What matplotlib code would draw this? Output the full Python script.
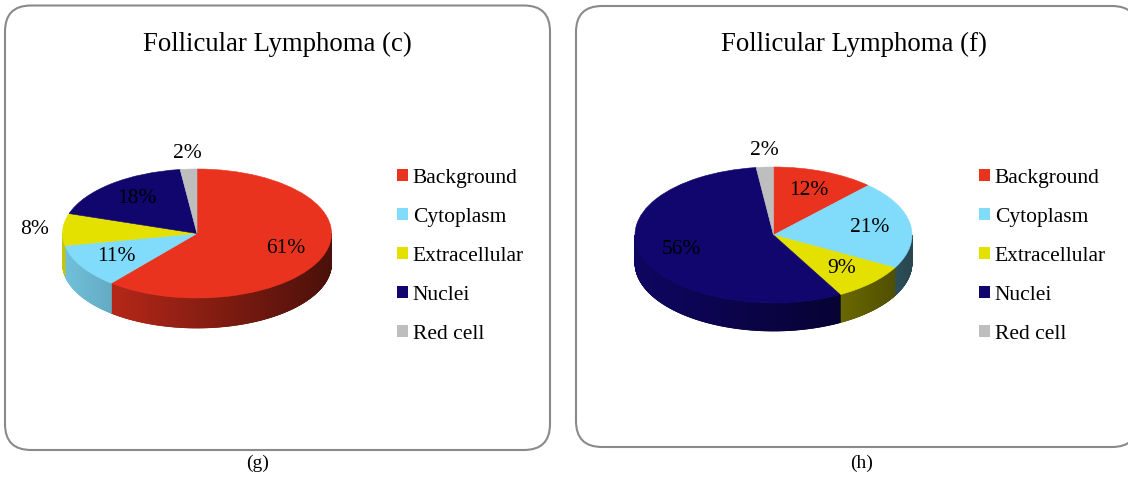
import numpy as np
import matplotlib
matplotlib.use('Agg')
import matplotlib.pyplot as plt
from matplotlib.patches import FancyBboxPatch, Patch
from matplotlib.collections import PolyCollection
from matplotlib.colors import to_rgb
from matplotlib.legend import Legend

# ---------------- data ----------------
categories = ['Background', 'Cytoplasm', 'Extracellular', 'Nuclei', 'Red cell']
values_c = [61, 11, 8, 18, 2]
values_f = [12, 21, 9, 56, 2]
titles = ['Follicular Lymphoma (c)', 'Follicular Lymphoma (f)']
captions = ['(g)', '(h)']
colors = ['#E9331F', '#80DCFA', '#E4E100', '#10066E', '#BEBEBE']

# ---------------- layout ----------------
plt.rcParams['font.family'] = ['Liberation Serif', 'DejaVu Serif']
W, H = 1128, 479
fig = plt.figure(figsize=(W / 100, H / 100), dpi=100)
fig.patch.set_facecolor('white')

bg = fig.add_axes([0, 0, 1, 1], zorder=0)
bg.set_xlim(0, W)
bg.set_ylim(H, 0)
bg.axis('off')

panels = [(5, 5.5, 545, 444.5), (576, 6, 562, 441)]       # x, y, w, h (px)
title_pos = [(277, 51), (854, 51)]
caption_pos = [(258, 463), (862, 463)]
legend_pos = [(397, 168.5), (979, 168.5)]
pie_geom = [(197, 233.5, 134.5, 64.5, 30), (773.5, 235, 138.5, 68, 28)]  # cx, cy, rx, ry, depth
outside_threshold = 8.5

for (x, y, w, h) in panels:
    bg.add_patch(FancyBboxPatch((x, y), w, h,
                                boxstyle='round,pad=0,rounding_size=26',
                                facecolor='white', edgecolor='#8A8A8A',
                                linewidth=1.5))

for t, (x, y) in zip(titles, title_pos):
    bg.text(x, y, t, ha='center', va='baseline', fontsize=19.3, color='black')
for c, (x, y) in zip(captions, caption_pos):
    bg.text(x, y, c, ha='center', va='center', fontsize=14, color='black')

handles = [Patch(facecolor=c, edgecolor='none') for c in colors]
for (lx, ly) in legend_pos:
    leg = Legend(bg, handles, categories, loc='upper left',
                 bbox_to_anchor=(lx, ly), bbox_transform=bg.transData,
                 frameon=False, fontsize=15.5, handlelength=0.52,
                 handleheight=0.52, handletextpad=0.22,
                 labelspacing=0.93, borderpad=0, borderaxespad=0)
    bg.add_artist(leg)


def draw_pie(values, geom):
    cx, cy, rx, ry, depth = geom
    m = 1.4
    d = depth / ry
    left_px = cx - m * rx
    top_px = cy - m * ry
    w_px = 2 * m * rx
    h_px = (2 * m + d) * ry
    ax = fig.add_axes([left_px / W, 1 - (top_px + h_px) / H, w_px / W, h_px / H], zorder=2)
    ax.patch.set_alpha(0)

    wedges, _ = ax.pie(values, colors=colors, startangle=90, counterclock=False,
                       radius=1, center=(0, 0))
    for wdg in wedges:
        wdg.set_edgecolor(wdg.get_facecolor())
        wdg.set_linewidth(0.4)
        wdg.set_zorder(3)
    ax.set_aspect('auto')
    ax.set_xlim(-m, m)
    ax.set_ylim(-(m + d), m)
    ax.axis('off')

    vals = np.asarray(values, dtype=float)
    total = vals.sum()
    starts = 90 - 360 * np.concatenate([[0], np.cumsum(vals)[:-1]]) / total
    ends = starts - 360 * vals / total

    polys, fcols = [], []
    for s, e, col in zip(starts, ends, colors):
        base = np.array(to_rgb(col))
        th = np.linspace(e, s, max(int((s - e) / 0.25), 2) + 1)
        for a1, a2 in zip(th[:-1], th[1:]):
            am = np.deg2rad((a1 + a2) / 2)
            if np.sin(am) >= 0:
                continue
            r1, r2 = np.deg2rad(a1), np.deg2rad(a2)
            c1, s1 = np.cos(r1), np.sin(r1)
            c2, s2 = np.cos(r2), np.sin(r2)
            polys.append([(c1, s1), (c2, s2), (c2, s2 - d), (c1, s1 - d)])
            f = 0.6 - 0.28 * np.cos(am)
            fcols.append(tuple(np.clip(base * f, 0, 1)))
    pc = PolyCollection(polys, facecolors=fcols, edgecolors=fcols, linewidths=0.5, zorder=2)
    ax.add_collection(pc)

    for v, s, e in zip(vals, starts, ends):
        mid = np.deg2rad((s + e) / 2)
        c, sn = np.cos(mid), np.sin(mid)
        label = f"{int(round(100 * v / total))}%"
        if 100 * v / total < outside_threshold:
            r = 1.1
            ha = 'right' if c < -0.3 else ('left' if c > 0.3 else 'center')
            va = 'bottom' if sn > 0.3 else ('top' if sn < -0.3 else 'center')
        else:
            r = 0.7
            ha, va = 'center', 'center'
        ax.text(r * c, r * sn, label, ha=ha, va=va, fontsize=15.5, color='black', zorder=5)
    return ax


draw_pie(values_c, pie_geom[0])
draw_pie(values_f, pie_geom[1])

fig.savefig('out.png', dpi=100, facecolor='white')
